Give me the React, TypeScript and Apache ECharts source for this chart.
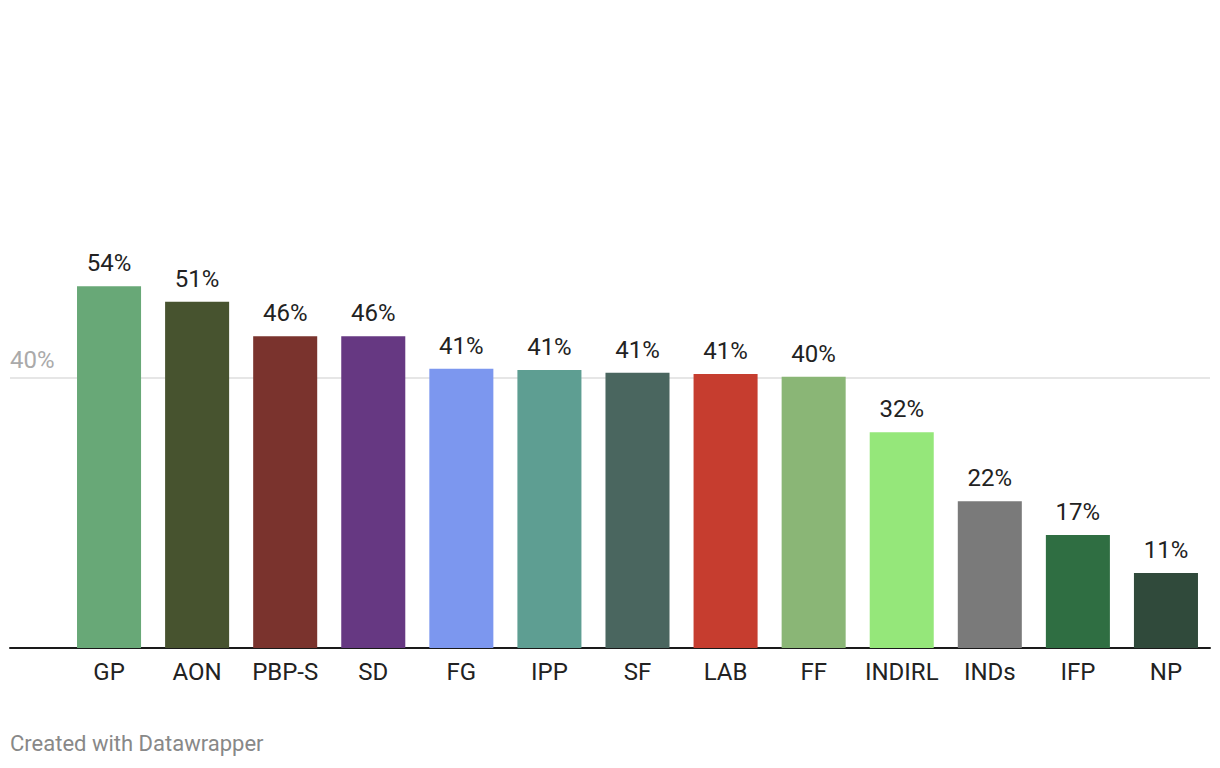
import React, { useEffect, useRef } from "react";
import * as echarts from "echarts";

const categories = ["GP", "AON", "PBP-S", "SD", "FG", "IPP", "SF", "LAB", "FF", "INDIRL", "INDs", "IFP", "NP"];
const values = [53.5, 51.2, 46.1, 46.1, 41.3, 41.1, 40.7, 40.5, 40.1, 31.9, 21.7, 16.7, 11.1];
const colors = ["#68a877", "#47532f", "#7a332d", "#663882", "#7c97ef", "#5e9e92", "#4a665f", "#c63d2f", "#8ab676", "#95e77a", "#7a7a7a", "#2f6e42", "#304a3b"];
const yTicks = [0, 40, 80];

const FONT = "Roboto, 'Noto Sans', sans-serif";

export default function App() {
  const ref = useRef<HTMLDivElement>(null);
  useEffect(() => {
    if (!ref.current) return;
    const chart = echarts.init(ref.current, null, { renderer: "svg" });
    const top = 107;
    const bottom = 120;
    chart.setOption({
      animation: false,
      backgroundColor: "#ffffff",
      textStyle: { fontFamily: FONT },
      grid: [
        { left: 10, right: 10, top, bottom, containLabel: false },
        { left: 65, right: 10, top, bottom, containLabel: false },
      ],
      xAxis: [
        {
          gridIndex: 0,
          type: "value",
          min: 0,
          max: 1,
          axisLine: { show: true, onZero: true, lineStyle: { color: "#1a1a1a", width: 2 } },
          axisTick: { show: false },
          axisLabel: { show: false },
          splitLine: { show: false },
        },
        {
          gridIndex: 1,
          type: "category",
          data: categories,
          axisLine: { show: false },
          axisTick: { show: false },
          axisLabel: { interval: 0, color: "#222222", fontSize: 24, fontFamily: FONT, margin: 12 },
        },
      ],
      yAxis: [
        {
          gridIndex: 0,
          type: "value",
          min: yTicks[0],
          max: yTicks[yTicks.length - 1],
          interval: 40,
          axisLine: { show: false },
          axisTick: { show: false },
          axisLabel: {
            inside: true,
            verticalAlign: "bottom",
            margin: 0,
            padding: [0, 0, 6, 0],
            color: "#aaaaaa",
            fontSize: 24,
            fontFamily: FONT,
            formatter: (v: number) => (v === 40 ? v + "%" : ""),
          },
          splitLine: { show: true, showMinLine: false, showMaxLine: false, lineStyle: { color: "#e6e6e6", width: 2 } },
        },
        {
          gridIndex: 1,
          type: "value",
          min: yTicks[0],
          max: yTicks[yTicks.length - 1],
          show: false,
          splitLine: { show: false },
        },
      ],
      series: [
        {
          type: "bar",
          xAxisIndex: 1,
          yAxisIndex: 1,
          barCategoryGap: "27.3%",
          data: values.map((v, i) => ({ value: v, itemStyle: { color: colors[i] } })),
          label: {
            show: true,
            position: "top",
            distance: 11,
            color: "#222222",
            fontSize: 24,
            fontFamily: FONT,
            formatter: (p: any) => Math.round(p.value) + "%",
          },
        },
      ],
      graphic: [
        {
          type: "text",
          left: 10,
          top: 732,
          style: { text: "Created with Datawrapper", fill: "#888888", fontSize: 22, fontFamily: FONT },
        },
      ],
    });
    return () => chart.dispose();
  }, []);
  return <div ref={ref} style={{ width: 1220, height: 768, position: "absolute", left: 0, top: 0 }} />;
}
